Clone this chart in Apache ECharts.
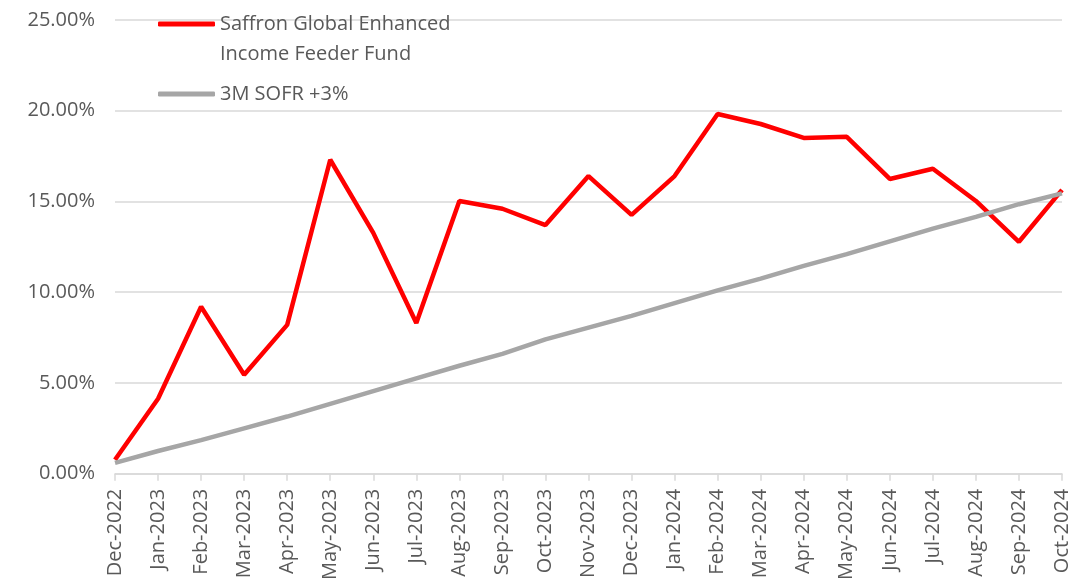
<!DOCTYPE html>
<html>
<head>
<meta charset="utf-8">
<script src="https://cdn.jsdelivr.net/npm/echarts@6/dist/echarts.min.js"></script>
<style>
html,body{margin:0;padding:0;background:#fff;}
#c{width:1075px;height:583px;}
</style>
</head>
<body>
<div id="c"></div>
<script>
const categories = ['Dec-2022','Jan-2023','Feb-2023','Mar-2023','Apr-2023','May-2023','Jun-2023','Jul-2023','Aug-2023','Sep-2023','Oct-2023','Nov-2023','Dec-2023','Jan-2024','Feb-2024','Mar-2024','Apr-2024','May-2024','Jun-2024','Jul-2024','Aug-2024','Sep-2024','Oct-2024'];
const fundValues = [0.77,4.13,9.2,5.45,8.2,17.3,13.27,8.3,15.03,14.6,13.7,16.4,14.26,16.4,19.82,19.27,18.5,18.56,16.24,16.8,15.03,12.78,15.64];
const sofrValues = [0.6,1.25,1.85,2.5,3.15,3.85,4.55,5.25,5.95,6.6,7.4,8.05,8.7,9.4,10.1,10.75,11.45,12.1,12.8,13.5,14.15,14.85,15.45];
const fundName = 'Saffron Global Enhanced\nIncome Feeder Fund';
const sofrName = '3M SOFR +3%';

const chart = echarts.init(document.getElementById('c'));
chart.setOption({
  animation: false,
  textStyle: {fontFamily: 'Open Sans'},
  grid: {left: 115, right: 13, top: 20, bottom: 109},
  legend: {
    orient: 'vertical',
    left: 153, top: -26,
    itemWidth: 57, itemHeight: 5, itemGap: 10,
    icon: 'roundRect',
    textStyle: {fontSize: 20, color: '#595959', lineHeight: 30},
    formatter: n => n === fundName ? '\n' + n : n,
    data: [fundName, sofrName]
  },
  xAxis: {
    type: 'category',
    boundaryGap: false,
    data: categories,
    axisLine: {lineStyle: {color: '#d9d9d9', width: 1.5}},
    axisTick: {show: true, length: 7, lineStyle: {color: '#d9d9d9', width: 1.5}},
    axisLabel: {rotate: 90, fontSize: 20, color: '#595959', margin: 15, interval: 0}
  },
  yAxis: {
    type: 'value',
    min: 0, max: 25, interval: 5,
    axisLine: {show: false},
    axisTick: {show: false},
    splitLine: {lineStyle: {color: '#d9d9d9', width: 1.5}},
    axisLabel: {fontSize: 20, color: '#595959', margin: 20,
      formatter: v => v.toFixed(2) + '%'}
  },
  series: [
    {name: fundName, type: 'line', data: fundValues, symbol: 'none', z: 3,
     lineStyle: {color: '#ff0000', width: 4.5}, itemStyle: {color: '#ff0000'}},
    {name: sofrName, type: 'line', data: sofrValues, symbol: 'none', z: 4,
     lineStyle: {color: '#a6a6a6', width: 4.5}, itemStyle: {color: '#a6a6a6'}}
  ]
});
</script>
</body>
</html>
